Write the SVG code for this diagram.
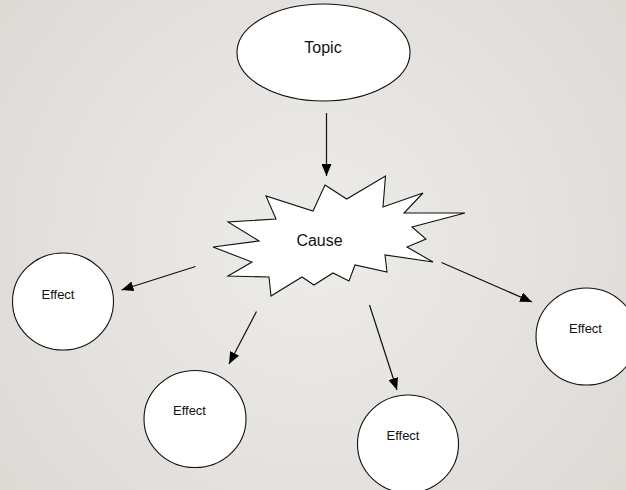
<svg xmlns="http://www.w3.org/2000/svg" width="626" height="490" viewBox="0 0 626 490">
  <defs>
    <radialGradient id="bg" cx="313" cy="245" r="420" gradientUnits="userSpaceOnUse">
      <stop offset="0" stop-color="#eeece9"/>
      <stop offset="1" stop-color="#dcd9d5"/>
    </radialGradient>
    <marker id="arrow" markerWidth="12" markerHeight="10" refX="12" refY="5" orient="auto" markerUnits="userSpaceOnUse">
      <path d="M0,0 L12,5 L0,10 Z" fill="#000"/>
    </marker>
    <style>
      .shape { fill: #fff; stroke: #111; stroke-width: 1.1; }
      .conn { stroke: #111; stroke-width: 1.2; fill: none; marker-end: url(#arrow); }
      .label { font-family: "Liberation Sans", Arial, sans-serif; fill: #111; text-anchor: middle; }
      .big { font-size: 16px; }
      .small { font-size: 13px; }
    </style>
  </defs>

  <rect width="626" height="490" fill="url(#bg)"/>

  <g id="topic">
    <ellipse class="shape" cx="323.5" cy="52.5" rx="86.5" ry="48.5"/>
    <text class="label big" x="323" y="53">Topic</text>
  </g>

  <g id="cause">
    <polygon class="shape" points="325,185 346.7,199 385.5,176 383,207 423,193 404,213 465,213 412,227 426,239 407,247 433,262 385,255 387,272 355,265 349,281 333,273 314,285 302,277 271,296 269,277 228,276 252,262 213,247 259,241 228,222 276,219 266,196 313,211"/>
    <text class="label big" x="319.5" y="246">Cause</text>
  </g>

  <g id="effect-left">
    <ellipse class="shape" cx="63" cy="301.5" rx="50.5" ry="48.5"/>
    <text class="label small" x="58" y="298.5">Effect</text>
  </g>

  <g id="effect-bottom-left">
    <ellipse class="shape" cx="195" cy="419" rx="51" ry="48.5"/>
    <text class="label small" x="189.5" y="415">Effect</text>
  </g>

  <g id="effect-bottom-center">
    <ellipse class="shape" cx="408" cy="444" rx="50.5" ry="49"/>
    <text class="label small" x="403" y="440">Effect</text>
  </g>

  <g id="effect-right">
    <ellipse class="shape" cx="586.5" cy="336.5" rx="50.5" ry="48.5"/>
    <text class="label small" x="585.5" y="333">Effect</text>
  </g>

  <g id="connectors">
    <line class="conn" x1="326.5" y1="113" x2="326.5" y2="176"/>
    <line class="conn" x1="195.5" y1="266.5" x2="121.5" y2="290"/>
    <line class="conn" x1="256.5" y1="311.5" x2="229" y2="364"/>
    <line class="conn" x1="369.5" y1="305" x2="397" y2="390"/>
    <line class="conn" x1="441.5" y1="262.5" x2="532" y2="302"/>
  </g>
</svg>
